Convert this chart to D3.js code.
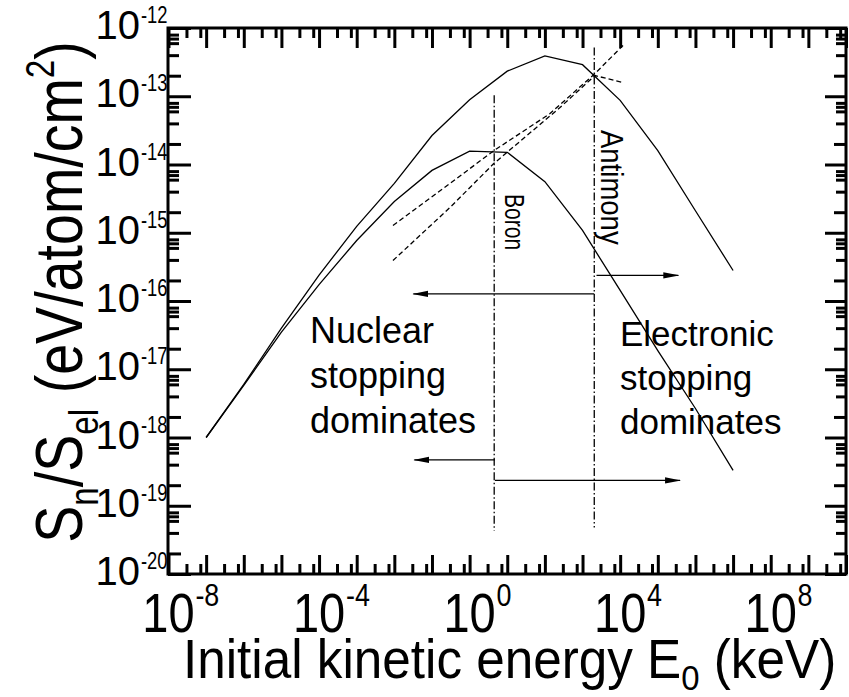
<!DOCTYPE html>
<meta charset="utf-8">
<style>
body { margin: 0; background: #fff; }
text { font-family: "Liberation Sans", Arial, sans-serif; fill: #000; }
.curve { fill: none; stroke: #000; stroke-width: 1.3px; }
.dashed { stroke-dasharray: 5,3; }
.frame { fill: none; stroke: #000; stroke-width: 3px; }
.marker-line { stroke: #000; stroke-width: 1.3px; fill: none; }
</style>
<svg width="849" height="697"></svg>
<script src="https://d3js.org/d3.v7.min.js"></script>
<script>

// nuclear stopping, solid lines (energy in keV)
var nuclearE = [1e-7, 1e-6, 1e-5, 1e-4, 1e-3, 1e-2, 1e-1, 1, 1e1, 1e2, 1e3, 1e4, 1e5, 1e6, 1e7];
var antimonyNuclear = [1.0e-18, 6.0e-18, 4.0e-17, 2.4e-16, 1.24e-15, 5.3e-15, 2.66e-14, 8.9e-14,
                       2.33e-13, 3.9e-13, 2.9e-13, 8.7e-14, 1.6e-14, 2.1e-15, 2.8e-16];
var boronNuclear = [1.0e-18, 5.8e-18, 3.5e-17, 1.74e-16, 7.7e-16, 2.87e-15, 8.2e-15, 1.57e-14,
                    1.51e-14, 5.6e-15, 1.08e-15, 1.43e-16, 1.88e-17, 2.66e-18, 3.3e-19];

// electronic stopping, dashed lines
var antimonyElecE = [9.2e-3, 0.30, 4.45, 137, 2140, 11900];
var antimonyElec = [1.28e-15, 5.27e-15, 1.60e-14, 5.58e-14, 2.15e-13, 5.55e-13];
var boronElecE = [9.2e-3, 0.30, 4.45, 252, 2140, 11900];
var boronElec = [3.92e-16, 2.34e-15, 1.04e-14, 6.84e-14, 2.01e-13, 1.59e-13];

// crossover energies (keV) and extent of the dash-dot markers
var crossNames = ["Boron", "Antimony"];
var crossE = [4.5, 2050];
var crossTop = [1.03e-13, 5.2e-13];
var crossBottom = [4.3e-20, 4.8e-20];

// arrows: start energy, end energy, level
var arrowFrom = [2050, 2350, 4.7, 4.7];
var arrowTo = [0.032, 3.5e5, 0.034, 3.9e5];
var arrowAt = [1.27e-16, 2.37e-16, 4.7e-19, 2.35e-19];

var xLabelExp = [-8, -4, 0, 4, 8];
var yLabelExp = [-12, -13, -14, -15, -16, -17, -18, -19, -20];

var svg = d3.select("svg");
var x = d3.scaleLog().domain([1e-8, 1e10]).range([168.5, 846]);
var y = d3.scaleLog().domain([1e-20, 1e-12]).range([574, 28]);

svg.append("defs").append("marker")
    .attr("id", "head")
    .attr("markerUnits", "userSpaceOnUse")
    .attr("viewBox", "0 -4 16 8")
    .attr("refX", 15).attr("refY", 0)
    .attr("markerWidth", 16).attr("markerHeight", 8)
    .attr("orient", "auto")
  .append("path")
    .attr("d", "M0,-3.2L16,0L0,3.2Z")
    .attr("fill", "#000");

// tick values: majors each decade, minors inside
var xMajor = [], xMinor = [], yMajor = [], yMinor = [], yMid = [];
for (var e = -8; e <= 10; e++) xMajor.push(Math.pow(10, e));
for (var e = -8; e < 10; e++) { xMinor.push(3 * Math.pow(10, e)); xMinor.push(7 * Math.pow(10, e)); }
for (var e = -20; e <= -12; e++) yMajor.push(Math.pow(10, e));
for (var e = -20; e < -12; e++) {
  yMid.push(2 * Math.pow(10, e));
  [4, 6, 7, 8].forEach(function(k) { yMinor.push(k * Math.pow(10, e)); });
}

function addAxis(axis, vals, size, tx, ty) {
  var g = svg.append("g")
      .attr("transform", "translate(" + tx + "," + ty + ")")
      .call(axis.tickValues(vals).tickSize(size).tickFormat(""));
  g.select(".domain").remove();
  g.selectAll("line").attr("stroke", "#000").attr("stroke-width", 3);
}
addAxis(d3.axisBottom(x), xMajor, -19, 0, 574);
addAxis(d3.axisBottom(x), xMinor, -10, 0, 574);
addAxis(d3.axisTop(x), xMajor, -20, 0, 28);
addAxis(d3.axisTop(x), xMinor, -10, 0, 28);
addAxis(d3.axisLeft(y), yMajor, -23, 168, 0);
addAxis(d3.axisLeft(y), yMid, -13, 168, 0);
addAxis(d3.axisLeft(y), yMinor, -11, 168, 0);
addAxis(d3.axisRight(y), yMajor, -21, 846, 0);
addAxis(d3.axisRight(y), yMid, -12, 846, 0);
addAxis(d3.axisRight(y), yMinor, -10, 846, 0);

svg.append("rect").attr("class", "frame")
    .attr("x", 168).attr("y", 28)
    .attr("width", 678).attr("height", 546);

var line = d3.line()
    .x(function(d) { return x(d[0]); })
    .y(function(d) { return y(d[1]); });

function series(es, vs) { return es.map(function(e, i) { return [e, vs[i]]; }); }

svg.append("path").attr("class", "curve").attr("d", line(series(nuclearE, antimonyNuclear)));
svg.append("path").attr("class", "curve").attr("d", line(series(nuclearE, boronNuclear)));
svg.append("path").attr("class", "curve dashed").attr("d", line(series(antimonyElecE, antimonyElec)));
svg.append("path").attr("class", "curve dashed").attr("d", line(series(boronElecE, boronElec)));

// crossover markers
crossE.forEach(function(e, i) {
  svg.append("line").attr("class", "marker-line")
      .attr("x1", x(e)).attr("x2", x(e))
      .attr("y1", y(crossTop[i])).attr("y2", y(crossBottom[i]))
      .attr("stroke-dasharray", "8,2.5,1.5,2.5");
});

arrowFrom.forEach(function(e, i) {
  svg.append("line").attr("class", "marker-line")
      .attr("x1", x(e)).attr("x2", x(arrowTo[i]))
      .attr("y1", y(arrowAt[i])).attr("y2", y(arrowAt[i]))
      .attr("marker-end", "url(#head)");
});

// narrow-looking text: regular face squeezed horizontally
function narrow(tx, ty, sx, rot) {
  return svg.append("g").attr("transform",
      "translate(" + tx + "," + ty + ")" + (rot ? " rotate(" + rot + ")" : "") + " scale(" + sx + ",1)");
}

xLabelExp.forEach(function(p) {
  var g = narrow(x(Math.pow(10, p)), 632, 0.84);
  g.append("text").attr("text-anchor", "middle").attr("font-size", 56).text("10");
  g.append("text").attr("x", 32).attr("y", -26).attr("font-size", 32).text(p);
});

yLabelExp.forEach(function(p) {
  var ty = y(Math.pow(10, p)) + 11;
  svg.append("text").attr("x", 140).attr("y", ty).attr("text-anchor", "end")
      .attr("font-size", 40).text("10");
  var g = narrow(141, ty - 16, 0.8);
  g.append("text").attr("font-size", 23).text(p);
});

// axis titles
var xt = narrow(183, 678, 0.915);
var xtt = xt.append("text").attr("font-size", 56);
xtt.append("tspan").text("Initial kinetic energy E");
xtt.append("tspan").attr("font-size", 36).attr("dy", 12).text("0");
xtt.append("tspan").attr("dy", -12).text(" (keV)");

var yt = svg.append("g").attr("transform", "translate(82,292) rotate(-90) scale(0.83,1)");
var ytt = yt.append("text").attr("text-anchor", "middle").attr("font-size", 67);
ytt.append("tspan").text("S");
ytt.append("tspan").attr("font-size", 40).attr("dy", 16).text("n");
ytt.append("tspan").attr("dy", -16).text("/S");
ytt.append("tspan").attr("font-size", 40).attr("dy", 16).text("el");
ytt.append("tspan").attr("dy", -16).text(" (eV/atom/cm");
ytt.append("tspan").attr("font-size", 40).attr("dy", -28).text("2");
ytt.append("tspan").attr("dy", 28).text(")");

// region notes
var notesLeft = ["Nuclear", "stopping", "dominates"];
var notesRight = ["Electronic", "stopping", "dominates"];
notesLeft.forEach(function(s, i) {
  svg.append("text").attr("x", 310).attr("y", 343 + i * 45).attr("font-size", 36).text(s);
});
notesRight.forEach(function(s, i) {
  svg.append("text").attr("x", 620).attr("y", 346 + i * 44).attr("font-size", 35).text(s);
});

// element names along the crossover markers
svg.append("g").attr("transform", "translate(" + (x(crossE[0]) + 11) + ",194) rotate(90) scale(0.78,1)")
  .append("text").attr("font-size", 27).text(crossNames[0]);
svg.append("g").attr("transform", "translate(" + (x(crossE[1]) + 7) + ",130) rotate(90) scale(0.86,1)")
  .append("text").attr("font-size", 32).text(crossNames[1]);

</script>
